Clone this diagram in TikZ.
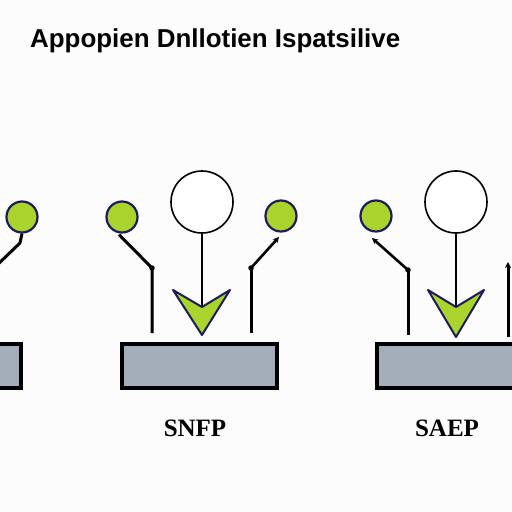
\documentclass[tikz,border=0pt]{standalone}
\usepackage{fontspec}
\setmainfont{Liberation Sans}
\newfontfamily\labfont{Liberation Serif}
\usetikzlibrary{arrows.meta}
\definecolor{leaf}{HTML}{A9D42C}
\definecolor{navy}{HTML}{1C1C5C}
\definecolor{slab}{HTML}{A3AEBA}
\definecolor{paper}{HTML}{FCFCFC}
\tikzset{
  dotg/.style={circle, draw=navy, fill=leaf, line width=2.2pt, minimum size=31pt, inner sep=0pt},
  hollow/.style={circle, draw=black, fill=white, line width=1.6pt, minimum size=62pt, inner sep=0pt},
  slabbox/.style={draw=black, fill=slab, line width=3.6pt},
  stem/.style={draw=black, line width=3pt, line join=round},
  thin/.style={draw=black, line width=1.8pt},
  chev/.style={draw=navy, fill=leaf, line width=2pt, line join=round},
  knob/.style={circle, fill=black, inner sep=0pt, minimum size=5.5pt},
  lab/.style={font=\labfont\bfseries\fontsize{25}{25}\selectfont, inner sep=0pt},
  ttl/.style={font=\bfseries\fontsize{25}{25}\selectfont, inner sep=0pt, anchor=base west},
  tip/.style={-{Stealth[length=6pt,width=6pt]}}
}
\begin{document}
\begin{tikzpicture}[x=1pt,y=-1pt]
\useasboundingbox (0,0) rectangle (512,512);
\fill[paper] (0,0) rectangle (512,512);
\clip (0,0) rectangle (512,512);

% title
\node[ttl] (title) at (30,47) {\resizebox{370pt}{!}{Appopien Dnllotien Ispatsilive}};

% boxes
\draw[slabbox] (-10,344) rectangle (21,388);
\node (b0) at (6,366) {};
\draw[slabbox] (122,344) rectangle (277,388);
\node (b1) at (199,366) {};
\draw[slabbox] (377,344) rectangle (525,388);
\node (b2) at (450,366) {};

% left partial
\node[dotg] (g0) at (22,217) {};
\coordinate (g0a) at (20,243);
\coordinate (g0b) at (-6,268);
\draw[stem] (g0.south) -- (g0a) -- (g0b);

% panel 1
\node[dotg] (g1) at (122,217) {};
\coordinate (k1) at (152,268);
\coordinate (e1) at (152,333);
\draw[stem] (g1.south) ++(-3,1) -- (k1) -- (e1);
\node[knob] at (k1) {};

\node[hollow] (w1) at (202,202) {};
\coordinate (n1) at (202,307);
\draw[thin] (w1.south) -- (n1);
\coordinate (a1l) at (173,290);
\coordinate (a1t) at (202,335);
\coordinate (a1r) at (230,290);
\draw[chev] (a1l) -- (a1t) -- (a1r) -- (n1) -- cycle;

\node[dotg] (g2) at (281,216) {};
\coordinate (k2) at (251,268);
\coordinate (e2) at (251,333);
\coordinate (t2) at (279,237);
\draw[stem] (e2) -- (k2);
\draw[stem, line width=2.6pt, tip] (k2) -- (t2);
\node[knob] at (k2) {};

% panel 2
\node[dotg] (g3) at (376,216) {};
\coordinate (t3) at (372,238);
\coordinate (k3) at (408,270);
\coordinate (e3) at (408,335);
\draw[stem] (e3) -- (k3);
\draw[stem, line width=2.6pt, tip] (k3) -- (t3);
\node[knob] at (k3) {};

\node[hollow] (w2) at (456,202) {};
\coordinate (n2) at (456,307);
\draw[thin] (w2.south) -- (n2);
\coordinate (a2l) at (428,290);
\coordinate (a2t) at (456,337);
\coordinate (a2r) at (484,290);
\draw[chev] (a2l) -- (a2t) -- (a2r) -- (n2) -- cycle;

\coordinate (t4) at (508,262);
\coordinate (e4) at (508,337);
\draw[stem, tip] (e4) -- (t4);

% labels
\node[lab] (l1) at (195,428) {SNFP};
\node[lab] (l2) at (447,428) {SAEP};
\end{tikzpicture}
\end{document}
